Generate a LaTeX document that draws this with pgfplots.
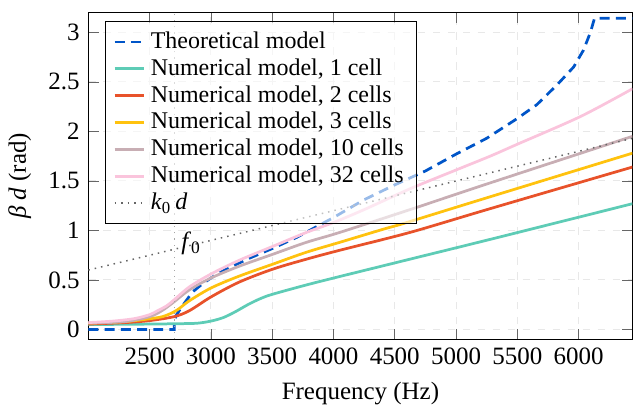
\documentclass[border=0pt]{standalone}
\usepackage{pgfplots}
\pgfplotsset{compat=1.18}
\usepackage{fontspec}
\setmainfont{Liberation Serif}
\definecolor{cTheo}{RGB}{0,85,200}
\definecolor{cOne}{RGB}{94,204,182}
\definecolor{cTwo}{RGB}{232,82,42}
\definecolor{cThree}{RGB}{255,194,14}
\definecolor{cTen}{RGB}{200,174,180}
\definecolor{cThirty}{RGB}{250,196,220}
\begin{document}
\begin{tikzpicture}
\begin{axis}[
  name=ax,
  scale only axis,
  width=218pt, height=131pt,
  xmin=2000, xmax=6440, ymin=-0.1, ymax=3.2,
  xtick={2500,3000,...,6000},
  ytick={0,0.5,1,1.5,2,2.5,3},
  /pgf/number format/assume math mode=true,
  xticklabel style={/pgf/number format/1000 sep={}},
  scaled x ticks=false,
  grid=major,
  major grid style={dashed, gray!18},
  tick style={gray!80!black},
  xlabel={Frequency (Hz)},
  ylabel={\textit{β d} (rad)},
  legend cell align=left,
  legend image code/.code={\draw[#1] (0cm,0cm) -- (0.42cm,0cm);},
  legend style={at={(0.031,0.973)}, anchor=north west, fill=white, fill opacity=0.6, draw opacity=1, text opacity=1, draw=black, row sep=-1.4pt, font=\fontsize{9.6}{10}\selectfont},
]
\addplot[cTheo, line width=1.1pt, dash pattern=on 4pt off 2.5pt] coordinates {
(2000,0) (2700,0) (2700,0.08) (2720,0.15) (2768,0.24) (2851,0.38) (2930,0.46) (3000,0.52) (3124,0.61) (3315,0.72) (3506,0.82) (3700,0.93) (3850,1.03) (4000,1.13) (4250,1.31) (4500,1.46) (4750,1.60) (5000,1.77) (5250,1.93) (5500,2.13) (5660,2.27) (5825,2.47) (5960,2.65) (6040,2.82) (6097,3.00) (6130,3.1416) (6440,3.1416)};
\addlegendentry{Theoretical model}
\addplot[cOne, line width=1.1pt, smooth] coordinates {
(2000,0.05) (2500,0.055) (2800,0.06) (2900,0.065) (3000,0.085) (3100,0.12) (3200,0.18) (3300,0.25) (3400,0.31) (3500,0.355) (3779,0.45) (4051,0.535) (4624,0.71) (5279,0.91) (6440,1.27)};
\addlegendentry{Numerical model, 1 cell}
\addplot[cTwo, line width=1.1pt, smooth] coordinates {
(2000,0.055) (2300,0.07) (2500,0.09) (2700,0.13) (2824,0.19) (3002,0.33) (3233,0.48) (3506,0.61) (3779,0.71) (4051,0.80) (4624,0.98) (5279,1.22) (6440,1.64)};
\addlegendentry{Numerical model, 2 cells}
\addplot[cThree, line width=1.1pt, smooth] coordinates {
(2000,0.065) (2300,0.08) (2565,0.12) (2650,0.15) (2728,0.20) (2824,0.29) (3002,0.42) (3233,0.54) (3506,0.66) (3779,0.78) (4051,0.88) (4400,1.01) (4516,1.05) (4624,1.09) (5279,1.34) (6440,1.78)};
\addlegendentry{Numerical model, 3 cells}
\addplot[cTen, line width=1.1pt, smooth] coordinates {
(2000,0.065) (2300,0.08) (2500,0.13) (2600,0.19) (2700,0.28) (2824,0.40) (3000,0.52) (3233,0.64) (3506,0.76) (3779,0.88) (4051,0.98) (4624,1.21) (5279,1.48) (6440,1.95)};
\addlegendentry{Numerical model, 10 cells}
\addplot[cThirty, line width=1.1pt, smooth] coordinates {
(2000,0.07) (2200,0.085) (2374,0.11) (2500,0.15) (2565,0.19) (2640,0.24) (2700,0.30) (2824,0.43) (3000,0.56) (3233,0.70) (3506,0.84) (3779,0.98) (4000,1.08) (4250,1.21) (4624,1.42) (5000,1.61) (5279,1.75) (5500,1.87) (6016,2.15) (6440,2.43)};
\addlegendentry{Numerical model, 32 cells}
\addplot[gray!80!black, dotted, line width=0.6pt] coordinates {(2000,0.6) (6440,1.93)};
\addlegendentry{\textit{k}\textsubscript{0}\,\textit{d}}
\addplot[gray!70, dotted, line width=0.5pt, forget plot] coordinates {(2700,-0.1) (2700,3.2)};
\node[anchor=center] at (axis cs:2840,0.87) {\textit{f}\textsubscript{0}};
\end{axis}
\path (ax.north) ++(0,5pt);
\end{tikzpicture}
\end{document}
